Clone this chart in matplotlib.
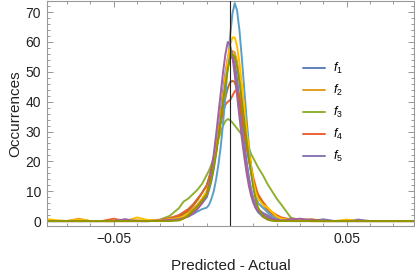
import matplotlib
matplotlib.use("Agg")
import matplotlib.pyplot as plt
from matplotlib.ticker import MultipleLocator

plt.rcParams['font.family'] = ['Liberation Sans', 'DejaVu Sans']
plt.rcParams['mathtext.fontset'] = 'custom'
plt.rcParams['mathtext.it'] = 'Liberation Sans:italic'
plt.rcParams['mathtext.rm'] = 'Liberation Sans'

xs = [-0.08, -0.075, -0.07, -0.065, -0.06, -0.055, -0.05, -0.045, -0.04, -0.035, -0.03,
      -0.026, -0.022, -0.020, -0.018, -0.016, -0.014, -0.012,
      -0.010, -0.009, -0.008, -0.007, -0.006, -0.005, -0.004, -0.003, -0.002, -0.001,
      0.0, 0.001, 0.002, 0.003, 0.004, 0.005, 0.006, 0.007, 0.008, 0.009, 0.010, 0.011, 0.012,
      0.014, 0.016, 0.018, 0.020, 0.022, 0.026, 0.03,
      0.035, 0.04, 0.045, 0.05, 0.055, 0.06, 0.065, 0.07, 0.075, 0.08]

s1 = [0, 0, 0, 0, 0, 0, 0, 0, 0, 0, 0.2,
      0.5, 1, 1.5, 2.5, 3.5, 4.5, 6,
      8, 10.5, 13.5, 17.5, 22.5, 28, 34, 40.5, 46.5, 51.5,
      54.5, 55, 52.5, 47.5, 41, 34, 27, 20.5, 15, 10.5, 7, 4.5, 3,
      1.5, 0.8, 0.4, 0.2, 0.1, 0, 0,
      0, 0, 0, 0, 0, 0, 0, 0, 0, 0]
s2 = [0.3, 0, 0, 0.8, 0, 0, 0, 0, 0.3, 0, 0.3,
      0.6, 1.2, 2, 3, 4, 5.5, 7.5,
      10, 12.5, 15.5, 19.5, 24, 29.5, 35.5, 41.5, 47, 52,
      55.5, 57, 56.5, 53.5, 48.5, 42, 35, 28, 22, 17, 13, 10, 8,
      5.5, 3.5, 2, 1.2, 0.8, 0.5, 0.3,
      0, 0, 0, 0, 0, 0, 0, 0, 0, 0]
s3 = [0, 0, 0, 0, 0, 0, 0, 0, 0, 0.1, 0.5,
      1.7, 4.3, 6.5, 7.5, 9, 10.5, 12.5,
      15.5, 17, 19, 21.5, 24.5, 27.5, 30, 32, 33.5, 34.2,
      33.8, 33, 32, 31, 30, 29, 27.5, 26, 24.5, 22.5, 21, 19.5, 18,
      15.5, 12.5, 10, 7.5, 5.5, 1.2, 0.2,
      0, 0, 0, 0, 0, 0, 0, 0, 0, 0]
s4 = [0, 0, 0, 0, 0, 0, 0.8, 0, 0, 0, 0.4,
      1, 2, 3, 4, 5.5, 7.5, 9.5,
      12, 14.5, 17.5, 21, 25, 29, 33, 36.5, 39, 40,
      40.5, 42, 43.5, 44, 42, 38, 33, 28, 23, 18.5, 14.5, 11.5, 9,
      6.5, 4.5, 3, 2, 1.2, 0.5, 0.2,
      0, 0, 0, 0, 0, 0, 0, 0, 0, 0]
s5 = [0, 0, 0, 0, 0, 0, 0, 0.6, 0, 0, 0.3,
      0.5, 0.8, 1.2, 2, 3, 4.5, 6.5,
      9, 11.5, 15, 19.5, 25, 31, 37.5, 44, 50, 54.5,
      57, 56, 52, 46, 39, 32, 25.5, 19.5, 14.5, 10.5, 7.5, 5.5, 4,
      2.8, 2, 1.2, 0.8, 0.6, 0.8, 0.5,
      0, 0.6, 0, 0, 0.5, 0, 0, 0, 0, 0]
s6 = [0, 0, 0, 0, 0, 0, 0, 0, 0, 0, 0.3,
      0.8, 1.5, 2.5, 3.5, 5, 7, 9.5,
      12, 14.5, 17.5, 21, 25, 29, 33.5, 37.5, 41.5, 44.5,
      46.5, 47, 46.5, 44, 40, 35, 30, 25, 20.5, 16.5, 13, 10.5, 8.5,
      6, 4, 2.5, 1.5, 1, 0.5, 0.3,
      0.6, 0, 0, 0, 0, 0, 0, 0, 0, 0]
s7 = [0, 0, 0, 0, 0, 0, 0, 0, 0, 0, 0.1,
      0.3, 0.6, 1, 1.5, 2.3, 3.2, 4,
      4.5, 5.5, 7.5, 10, 14, 19, 25, 33, 42, 52,
      62, 69.5, 73, 70.5, 64, 55, 45, 35, 26, 18.5, 12.5, 8.5, 6,
      4.5, 3, 1.5, 0.5, 0.2, 0, 0,
      0, 0, 0, 0, 0, 0, 0, 0, 0, 0]
s8 = [0.8, 0.3, 0, 0.5, 0, 0, 0, 0, 1.2, 0.3, 0.3,
      0.6, 1, 1.5, 2.5, 3.5, 5, 7.5,
      10, 12.5, 15.5, 19.5, 24, 29.5, 35.5, 42, 48.5, 54.5,
      59, 61.5, 61.5, 58.5, 53, 46, 38.5, 31, 24, 18, 13, 9.5, 7.5,
      5.5, 4.5, 3, 1.5, 0.8, 0.4, 0.2,
      0, 0, 0, 0.5, 0, 0, 0, 0, 0, 0]
s9 = [0, 0, 0, 0, 0, 0, 0, 0.5, 0, 0, 0.2,
      0.4, 0.6, 1, 1.5, 2.5, 4, 6,
      9, 12.5, 17, 22.5, 29, 36, 43, 50, 56, 60,
      59, 55, 49, 42, 35, 28, 22, 16.5, 12, 8.5, 6, 4.3, 3.2,
      2.2, 1.4, 0.8, 0.4, 0.2, 0.5, 0.8,
      0.3, 0, 0, 0, 0, 0, 0, 0, 0, 0]
s10 = [0, 0, 0, 0, 0, 0, 0, 0, 0, 0, 0,
       0, 0.2, 0.8, 2, 3.5, 5, 7,
       9, 11.5, 14.5, 18.5, 23, 28.5, 34.5, 40.5, 46, 51,
       54.5, 56, 55, 51.5, 46.5, 40.5, 34, 27.5, 21.5, 16, 11, 7, 4.5,
       1.5, 0.5, 0.1, 0, 0, 0, 0,
       0, 0, 0, 0, 0, 0, 0, 0, 0, 0]

series = [s1, s2, s3, s4, s5, s6, s7, s8, s9, s10]
labels = ["$f_1$", "$f_2$", "$f_3$", "$f_4$", "$f_5$", None, None, None, None, None]
colors = ["#5E81B5", "#E19C24", "#8FB032", "#EB6235", "#8778B3",
          "#C56E1A", "#5D9EC7", "#FFBF00", "#A5609D", "#929600"]

fig = plt.figure(figsize=(4.15, 2.75), dpi=100)
ax = fig.add_axes([0.1125, 0.178, 0.885, 0.818])

handles = []
for s, c, lab in zip(series, colors, labels):
    ln, = ax.plot(xs, s, color=c, lw=1.4, solid_joinstyle='round', solid_capstyle='round')
    if lab:
        ln.set_label(lab)
        handles.append(ln)

ax.axvline(0, color='#222222', lw=0.8, zorder=5)

ax.set_xlim(-0.0787, 0.0789)
ax.set_ylim(-1.67, 73.7)

ax.xaxis.set_major_locator(MultipleLocator(0.05))
ax.xaxis.set_minor_locator(MultipleLocator(0.01))
ax.yaxis.set_major_locator(MultipleLocator(10))
ax.yaxis.set_minor_locator(MultipleLocator(2))

def xfmt(v, pos):
    if abs(v) < 1e-9:
        return ""
    return ("\u22120.05" if v < 0 else "0.05")
ax.xaxis.set_major_formatter(plt.FuncFormatter(xfmt))

for sp in ax.spines.values():
    sp.set_color('#999999')
    sp.set_linewidth(0.8)
ax.tick_params(which='both', direction='in', top=True, right=True, color='#999999', width=0.7,
               labelsize=10, labelcolor='#222222')
ax.tick_params(which='major', length=4, pad=4)
ax.tick_params(which='minor', length=2)

ax.set_xlabel("Predicted - Actual", fontsize=11, color='#222222', labelpad=10)
ax.set_ylabel("Occurrences", fontsize=11, color='#222222', labelpad=2)

leg = ax.legend(handles=handles, loc='upper left', bbox_to_anchor=(0.697, 0.732),
                frameon=False, fontsize=9, handlelength=1.8, handletextpad=0.6,
                labelspacing=0.55, borderpad=0, borderaxespad=0)

fig.savefig("out.png", dpi=100)
